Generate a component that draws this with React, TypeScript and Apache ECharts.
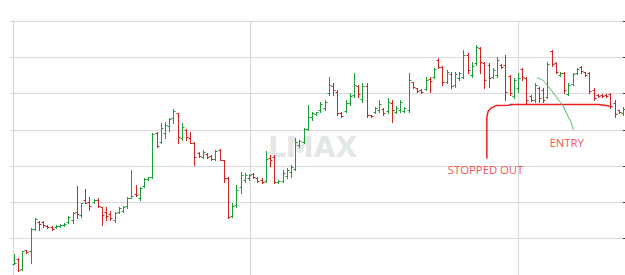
import React, { useEffect, useRef } from "react";
import * as echarts from "echarts";

// OHLC bars (price units, gridline every 10)
const opens = [
  3.0, 4.4, 1.7, 6.9, 6.6, 12.7, 14.6, 14.6, 13.5, 13.2,
  13.2, 13.5, 13.8, 14.6, 15.2, 17.4, 16.5, 20.7, 20.1, 20.1,
  20.7, 18.7, 17.4, 16.8, 15.2, 17.4, 17.6, 19.0, 21.2, 22.3,
  21.2, 24.5, 26.5, 27.0, 39.1, 36.7, 39.1, 41.0, 43.3, 44.6,
  37.8, 40.0, 37.8, 36.4, 33.6, 32.5, 33.3, 32.8, 32.0, 34.5,
  31.7, 26.7, 16.3, 19.3, 24.3, 26.2, 26.7, 27.8, 26.7, 26.2,
  25.9, 32.2, 32.5, 25.6, 25.9, 27.3, 28.4, 29.2, 35.8, 36.7,
  40.2, 43.5, 44.4, 45.5, 46.0, 50.2, 52.1, 50.4, 44.6, 45.2,
  47.4, 49.6, 52.1, 48.5, 52.1, 44.1, 44.9, 45.5, 45.8, 45.2,
  47.4, 44.9, 45.5, 45.2, 45.5,
  53.2, 51.5, 51.0, 51.3, 54.0, 54.6, 59.3, 57.3, 53.2, 55.4,
  52.4, 54.3, 54.6, 60.6, 55.1, 58.4, 62.6, 58.4, 57.9, 54.6,
  55.1, 57.9, 57.9, 54.8, 49.3, 51.5, 56.8, 54.3, 49.3, 48.2,
  51.5, 51.0, 49.1, 61.7, 58.4, 55.1, 55.7, 49.9, 52.6, 55.7,
  57.3, 56.0, 55.7, 51.0, 49.6, 49.6, 49.6, 49.9, 47.4, 45.5, 44.6,
];
const highs = [
  5.8, 4.7, 6.6, 6.9, 13.0, 15.7, 14.9, 14.9, 13.8, 13.5,
  13.8, 14.1, 14.3, 16.3, 17.4, 24.5, 19.8, 23.7, 21.5, 20.9,
  21.2, 18.7, 18.7, 17.6, 17.4, 18.7, 19.0, 21.5, 28.9, 24.8,
  24.3, 26.7, 27.0, 39.1, 39.4, 41.9, 42.2, 43.3, 45.8, 44.6,
  41.9, 40.2, 39.4, 36.7, 33.9, 34.5, 33.6, 33.1, 34.5, 34.7,
  31.7, 27.0, 19.8, 24.8, 28.4, 28.1, 27.8, 28.1, 27.0, 26.7,
  34.2, 33.1, 33.1, 26.2, 28.9, 29.5, 30.3, 37.8, 37.2, 40.5,
  46.9, 44.9, 44.9, 47.7, 48.2, 54.6, 52.9, 51.0, 44.9, 48.2,
  50.2, 55.7, 52.4, 52.9, 52.9, 44.1, 46.3, 48.2, 46.0, 48.8,
  48.2, 46.6, 48.2, 46.3, 55.7,
  53.2, 51.5, 51.3, 54.6, 54.6, 57.0, 59.8, 57.6, 56.5, 56.0,
  56.0, 56.0, 62.0, 61.2, 58.7, 63.4, 62.8, 58.7, 58.4, 57.0,
  60.1, 58.2, 60.6, 55.1, 54.3, 55.7, 57.1, 54.6, 49.6, 52.9,
  51.8, 51.5, 58.7, 62.0, 58.7, 56.0, 56.0, 52.9, 55.7, 57.1,
  57.6, 56.0, 56.0, 51.5, 49.9, 49.9, 49.9, 50.2, 48.2, 45.5, 46.3,
];
const lows = [
  3.0, 1.1, 1.4, 6.1, 3.3, 12.4, 12.4, 13.2, 13.0, 12.4,
  13.0, 13.2, 13.5, 14.3, 14.3, 15.7, 16.0, 19.8, 17.9, 19.8,
  18.7, 13.8, 15.2, 15.2, 14.6, 17.1, 17.4, 18.5, 21.2, 21.8,
  20.7, 24.3, 26.2, 26.7, 35.3, 36.4, 37.8, 39.6, 41.9, 36.4,
  37.2, 37.2, 36.4, 30.3, 32.5, 32.2, 32.2, 31.7, 31.7, 31.7,
  25.6, 15.7, 16.0, 18.7, 22.6, 25.6, 26.2, 26.7, 25.6, 25.4,
  25.6, 30.0, 25.4, 25.4, 25.6, 26.7, 27.0, 28.9, 35.3, 36.4,
  40.0, 42.7, 44.1, 44.9, 45.5, 49.6, 49.6, 44.1, 43.5, 44.9,
  46.9, 49.1, 49.1, 47.7, 43.5, 43.5, 44.6, 44.9, 44.1, 44.6,
  42.2, 44.6, 44.9, 44.9, 44.9,
  51.5, 50.4, 50.2, 51.0, 50.4, 54.3, 57.0, 52.4, 52.9, 51.5,
  51.8, 53.7, 54.3, 55.7, 54.6, 57.9, 55.7, 51.5, 51.8, 54.3,
  54.6, 57.0, 48.2, 49.6, 48.8, 50.4, 53.7, 47.1, 48.0, 47.7,
  47.7, 47.7, 48.8, 57.6, 55.7, 54.8, 50.2, 49.6, 52.4, 55.4,
  55.7, 54.8, 50.2, 48.2, 49.1, 49.1, 49.1, 46.0, 43.5, 44.6, 44.1,
];
const closes = [
  3.3, 1.4, 6.6, 6.3, 12.7, 15.4, 14.1, 13.8, 13.2, 12.7,
  13.5, 13.8, 14.1, 16.0, 17.1, 16.8, 19.8, 19.8, 19.0, 20.7,
  19.0, 16.5, 16.3, 15.7, 17.1, 18.5, 18.7, 21.2, 21.8, 22.0,
  24.0, 26.5, 27.0, 38.9, 35.6, 40.5, 41.3, 43.0, 45.2, 38.0,
  40.8, 38.0, 36.4, 32.5, 32.8, 33.9, 32.5, 32.0, 34.2, 31.7,
  26.7, 16.0, 19.0, 23.4, 27.6, 27.6, 27.6, 27.0, 25.9, 25.6,
  32.0, 31.7, 25.6, 25.9, 28.1, 28.9, 29.8, 36.7, 36.9, 40.2,
  43.5, 44.6, 44.9, 47.1, 47.7, 52.4, 51.0, 44.6, 43.8, 47.4,
  49.3, 52.4, 49.9, 52.1, 44.1, 43.8, 46.0, 47.1, 44.6, 47.7,
  45.5, 46.0, 47.7, 46.0, 53.7,
  51.8, 50.7, 50.4, 53.7, 53.5, 56.8, 57.3, 53.2, 56.0, 52.1,
  55.4, 55.7, 60.6, 56.5, 57.6, 62.8, 58.7, 53.7, 54.3, 56.5,
  59.3, 57.3, 50.4, 50.2, 53.7, 54.3, 54.6, 48.2, 48.2, 52.4,
  48.8, 48.2, 58.2, 58.2, 55.9, 55.7, 51.0, 52.4, 55.4, 56.8,
  56.2, 55.1, 50.7, 48.8, 49.3, 49.3, 49.3, 46.6, 44.4, 44.9, 45.8,
];

// Session separators (bar-index positions)
const sessionBreaks = [56.2, 120.0];

// Hand-drawn annotations, in [bar index, price]
const stopPath = [
  [112.6, 32.1], [112.6, 43.5], [112.9, 45.1], [113.6, 46.0], [114.8, 46.7],
  [117.9, 46.8], [118.1, 47.0], [139.1, 47.0], [141.0, 46.7], [142.4, 46.4],
];
const entryPath = [
  [124.5, 54.3], [126.0, 53.6], [126.9, 52.4], [128.1, 50.7], [129.5, 48.5],
  [130.7, 46.7], [131.9, 43.8], [132.6, 42.2], [133.2, 40.0],
];
const noteTexts = ["STOPPED OUT", "ENTRY"];
const notePoints = [[112.3, 29.2], [131.6, 36.4]];

const GREEN = "#1a9c36";
const RED = "#d42222";

export default function App() {
  const ref = useRef<HTMLDivElement>(null);
  useEffect(() => {
    if (!ref.current) return;
    const chart = echarts.init(ref.current, null, { renderer: "svg" });
    const data = opens.map((o, i) => [i, o, highs[i], lows[i], closes[i]]);
    chart.setOption({
      animation: false,
      backgroundColor: "#ffffff",
      grid: { left: 10, right: 2, top: 21, bottom: 0, containLabel: false },
      xAxis: {
        type: "value",
        min: -0.88,
        max: 145,
        axisLine: { show: false },
        axisTick: { show: false },
        axisLabel: { show: false },
        splitLine: { show: false },
      },
      yAxis: [
        {
          type: "value",
          min: 0,
          max: 70,
          interval: 10,
          position: "left",
          axisLine: { show: true, lineStyle: { color: "#d6d6d6", width: 1 } },
          axisTick: { show: false },
          axisLabel: { show: false },
          splitLine: { show: true, lineStyle: { color: "#d9d9d9", width: 1 } },
        },
        {
          type: "value",
          min: 0,
          max: 70,
          interval: 10,
          position: "right",
          axisLine: { show: false },
          axisTick: { show: true, length: 4, lineStyle: { color: "#333333" } },
          axisLabel: { show: false },
          splitLine: { show: false },
        },
      ],
      graphic: [
        {
          type: "text",
          x: 312.5,
          y: 147.5,
          z: 0,
          silent: true,
          style: {
            text: "LMAX",
            font: "bold 28px 'DejaVu Sans'",
            fill: "#e3e7e7",
            align: "center",
            verticalAlign: "middle",
          },
        },
      ],
      series: [
        {
          type: "line",
          data: [],
          silent: true,
          markLine: {
            silent: true,
            z: 1,
            symbol: ["none", "none"],
            label: { show: false },
            lineStyle: { color: "#d9d9d9", type: "solid", width: 1 },
            data: sessionBreaks.map((v) => ({ xAxis: v })),
          },
        },
        {
          type: "custom",
          data,
          encode: { x: 0, y: [1, 2, 3, 4] },
          clip: false,
          silent: true,
          z: 3,
          renderItem: (params: any, api: any) => {
            const i = api.value(0);
            const o = api.coord([i, api.value(1)]);
            const h = api.coord([i, api.value(2)]);
            const l = api.coord([i, api.value(3)]);
            const c = api.coord([i, api.value(4)]);
            const up = api.value(4) >= api.value(1);
            const color = up ? GREEN : RED;
            const x = Math.round(o[0]) + 0.5;
            const yo = Math.round(o[1]) + 0.5;
            const yc = Math.round(c[1]) + 0.5;
            const st = { stroke: color, lineWidth: 1 };
            return {
              type: "group",
              children: [
                { type: "line", shape: { x1: x, y1: Math.round(h[1]), x2: x, y2: Math.round(l[1]) + 1 }, style: st },
                { type: "line", shape: { x1: x - 2, y1: yo, x2: x, y2: yo }, style: st },
                { type: "line", shape: { x1: x, y1: yc, x2: x + 2, y2: yc }, style: st },
              ],
            };
          },
        },
        {
          type: "line",
          data: stopPath,
          symbol: "none",
          silent: true,
          z: 4,
          lineStyle: { color: "#ee1c1c", width: 1.5 },
        },
        {
          type: "line",
          data: entryPath,
          symbol: "none",
          smooth: 0.3,
          silent: true,
          z: 4,
          lineStyle: { color: "#45bb62", width: 1 },
        },
        {
          type: "scatter",
          data: notePoints.map((p, k) => ({ value: p, name: noteTexts[k] })),
          symbolSize: 1,
          itemStyle: { color: "rgba(255,255,255,0)" },
          silent: true,
          z: 5,
          label: {
            show: true,
            position: "inside",
            formatter: "{b}",
            color: "#ec1c24",
            fontSize: 11.3,
            fontFamily: "'Open Sans'",
          },
        },
      ],
    });
    return () => chart.dispose();
  }, []);
  return (
    <div
      ref={ref}
      style={{ position: "fixed", left: 0, top: 0, width: 625, height: 275, background: "#fff" }}
    />
  );
}
